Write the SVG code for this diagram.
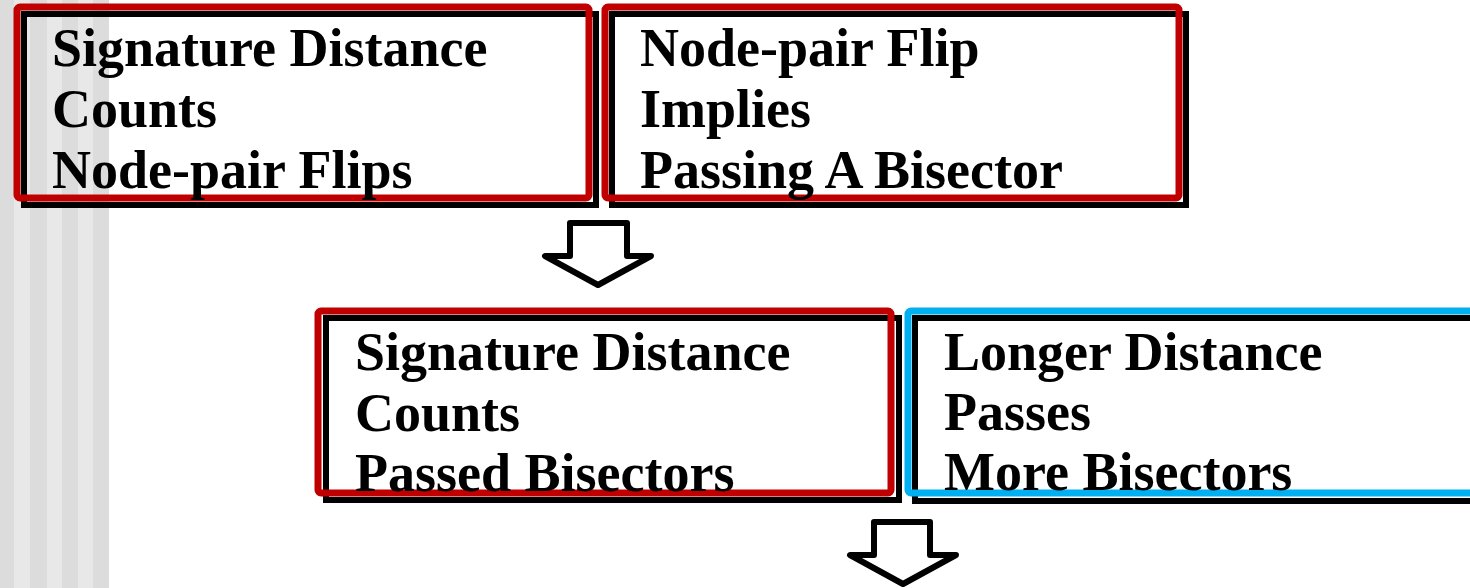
<svg xmlns="http://www.w3.org/2000/svg" width="1470" height="588" viewBox="0 0 1470 588">
<style>
.shadow{fill:none;stroke:#000;stroke-width:6}
.red{fill:none;stroke:#c00000;stroke-width:7}
.blue{fill:none;stroke:#00b0f0;stroke-width:7}
.t{font-family:"Liberation Serif","Times New Roman",serif;font-weight:bold;font-size:54px;fill:#000}
.arrow{fill:#fff;stroke:#000;stroke-width:6;stroke-linejoin:round}
.s1{fill:#dcdcdc}.s2{fill:#e8e8e8}
</style>
<rect x="0" y="0" width="1470" height="588" fill="#fff"/>
<g id="background-stripes">
<rect class="s1" x="0" y="0" width="14" height="588"/>
<rect class="s2" x="14" y="0" width="16" height="588"/>
<rect class="s1" x="30" y="0" width="17" height="588"/>
<rect class="s2" x="47" y="0" width="15" height="588"/>
<rect class="s1" x="62" y="0" width="16" height="588"/>
<rect class="s2" x="78" y="0" width="15" height="588"/>
<rect class="s1" x="93" y="0" width="16" height="588"/>
</g>
<g id="node1">
<rect class="shadow" x="24" y="14" width="572" height="191"/>
<rect class="red" x="17" y="7" width="572" height="191" rx="3"/>
<text class="t" x="52" y="66">Signature Distance</text>
<text class="t" x="52" y="127">Counts</text>
<text class="t" x="52" y="188">Node-pair Flips</text>
</g>
<g id="node2">
<rect class="shadow" x="612" y="14" width="574" height="191"/>
<rect class="red" x="605" y="7" width="574" height="191" rx="3"/>
<text class="t" x="640" y="66">Node-pair Flip</text>
<text class="t" x="640" y="127">Implies</text>
<text class="t" x="640" y="188">Passing A Bisector</text>
</g>
<g id="node3">
<rect class="shadow" x="326" y="318" width="573" height="182"/>
<rect class="red" x="318" y="311" width="573" height="182" rx="3"/>
<text class="t" x="355" y="370">Signature Distance</text>
<text class="t" x="355" y="431">Counts</text>
<text class="t" x="355" y="491">Passed Bisectors</text>
</g>
<g id="node4">
<rect class="shadow" x="915" y="318" width="600" height="183"/>
<rect class="blue" x="908" y="311" width="600" height="182" rx="3"/>
<text class="t" x="944" y="370">Longer Distance</text>
<text class="t" x="944" y="430">Passes</text>
<text class="t" x="944" y="490">More Bisectors</text>
</g>
<g id="connectors">
<polygon class="arrow" points="570,223 627,223 627,256 651,256 598,285 545,256 570,256"/>
<polygon class="arrow" points="874,522 930,522 930,555 956,555 903,584 850,555 874,555"/>
</g>
</svg>
